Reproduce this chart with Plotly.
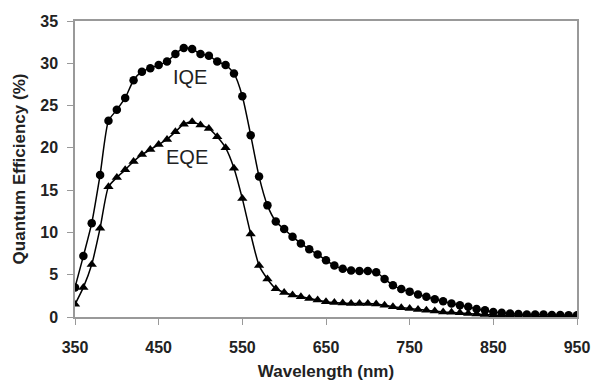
import plotly.graph_objects as go

wavelength = list(range(350, 951, 10))

iqe = [3.5, 7.2, 11.1, 16.8, 23.2, 24.5, 25.9, 28.0, 29.0, 29.4,
       29.8, 30.2, 31.1, 31.8, 31.7, 31.1, 30.9, 30.2, 29.8, 28.8,
       26.1, 21.5, 16.6, 13.2, 11.3, 10.4, 9.5, 8.7, 8.0, 7.4,
       6.7, 6.1, 5.7, 5.5, 5.45, 5.45, 5.3, 4.5, 3.75, 3.3,
       3.0, 2.65, 2.4, 2.1, 1.85, 1.6, 1.4, 1.2, 0.95, 0.8,
       0.6, 0.5, 0.4, 0.35, 0.3, 0.3, 0.3, 0.25, 0.25, 0.2, 0.2]

eqe = [1.5, 3.5, 6.2, 10.5, 15.4, 16.5, 17.4, 18.4, 19.2, 19.8,
       20.4, 21.0, 21.9, 22.8, 23.1, 22.7, 22.3, 21.3, 20.0, 17.6,
       14.0, 9.8, 6.1, 4.5, 3.35, 2.9, 2.6, 2.4, 2.2, 2.0,
       1.8, 1.7, 1.65, 1.6, 1.6, 1.6, 1.55, 1.4, 1.2, 1.1,
       1.0, 0.9, 0.8, 0.7, 0.6, 0.55, 0.5, 0.4, 0.35, 0.3,
       0.25, 0.2, 0.2, 0.15, 0.15, 0.1, 0.1, 0.1, 0.1, 0.1, 0.1]

x_ticks = [350, 450, 550, 650, 750, 850, 950]
y_ticks = [0, 5, 10, 15, 20, 25, 30, 35]

fig = go.Figure()
fig.add_trace(go.Scatter(
    x=wavelength, y=iqe, mode="lines+markers", name="IQE",
    line=dict(color="black", width=1.5, shape="spline", smoothing=0.6),
    marker=dict(symbol="circle", size=8.5, color="black"),
))
fig.add_trace(go.Scatter(
    x=wavelength, y=eqe, mode="lines+markers", name="EQE",
    line=dict(color="black", width=1.5, shape="spline", smoothing=0.6),
    marker=dict(symbol="triangle-up", size=9, color="black"),
))

ann_font = dict(family="Liberation Sans, Arial", size=20, color="#222")
fig.add_annotation(x=488, y=28.4, text="IQE", showarrow=False, font=ann_font)
fig.add_annotation(x=484, y=18.9, text="EQE", showarrow=False, font=ann_font)

axis_font = dict(family="Liberation Sans, Arial", size=16, color="#222")
title_font = dict(family="Liberation Sans, Arial", size=17, color="#222")
fig.update_layout(
    width=592, height=381,
    margin=dict(l=75, r=15, t=21, b=64),
    paper_bgcolor="white", plot_bgcolor="white",
    showlegend=False,
    font=dict(family="Liberation Sans, Arial", color="#222"),
    xaxis=dict(
        range=[350, 950], tickvals=x_ticks, ticktext=[f"<b>{v}</b>" for v in x_ticks],
        tickfont=axis_font, ticks="outside", ticklen=6, tickcolor="#999",
        ticklabelstandoff=9, automargin=False,
        showline=True, linecolor="#999", linewidth=1.5, mirror=True,
        showgrid=False, zeroline=False,
        title=dict(text="<b>Wavelength (nm)</b>", font=title_font, standoff=13),
    ),
    yaxis=dict(
        range=[0, 35], tickvals=y_ticks, ticktext=[f"<b>{v}</b>" for v in y_ticks],
        tickfont=axis_font, ticks="outside", ticklen=6, tickcolor="#999",
        ticklabelstandoff=6, automargin=False,
        showline=True, linecolor="#999", linewidth=1.5, mirror=True,
        showgrid=False, zeroline=False,
        title=dict(text="<b>Quantum Efficiency (%)</b>", font=title_font, standoff=10),
    ),
)

fig.write_html("out.html")
